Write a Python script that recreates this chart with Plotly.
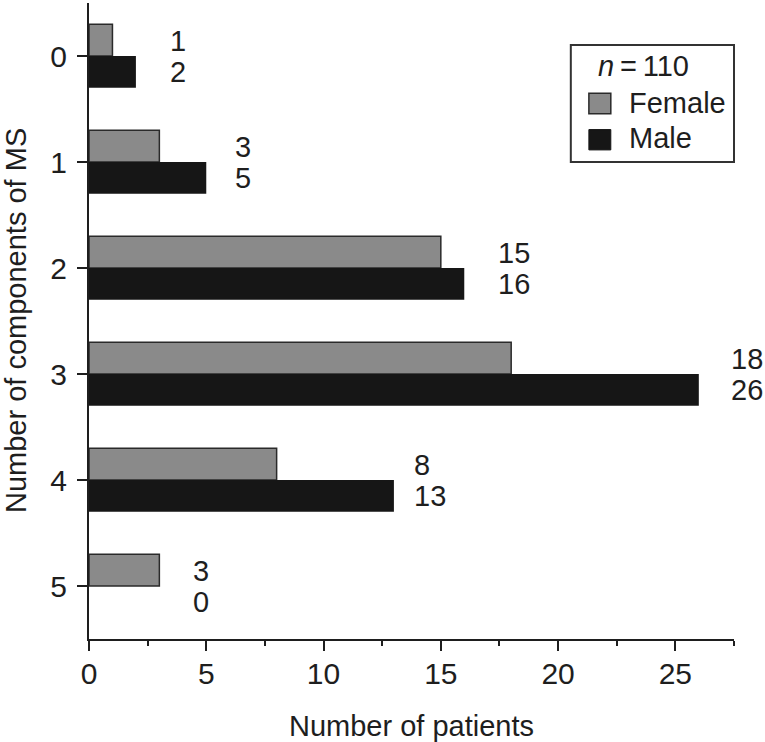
import plotly.graph_objects as go

# ---- data ----
categories = [0, 1, 2, 3, 4, 5]
female = [1, 3, 15, 18, 8, 3]
male = [2, 5, 16, 26, 13, 0]
x_ticks = [0, 5, 10, 15, 20, 25]
legend_title = "<i>n</i>\u2009=\u2009110"
x_title = "Number of patients"
y_title = "Number of components of MS"

# ---- styles ----
FONT = "Liberation Sans, Arial, Helvetica, sans-serif"
INK = "#1e1e1e"
F_COL = "#8a8a8a"
M_COL = "#161616"
label_shift_px = [32, 27, 32, 30, 18, 32]

fig = go.Figure()
fig.add_trace(go.Bar(y=categories, x=female, orientation="h", name="Female",
                     marker=dict(color=F_COL, line=dict(color="#2a2a2a", width=1.5))))
fig.add_trace(go.Bar(y=categories, x=male, orientation="h", name="Male",
                     marker=dict(color=M_COL, line=dict(color=M_COL, width=0))))

# value labels beside each pair
for i, c in enumerate(categories):
    xm = max(female[i], male[i])
    for val, dy, ys in ((female[i], -0.15, -1), (male[i], 0.15, 0)):
        fig.add_annotation(x=xm, y=c + dy, xref="x", yref="y", text=str(val),
                           showarrow=False, xanchor="left", yanchor="middle",
                           xshift=label_shift_px[i], yshift=ys,
                           font=dict(family=FONT, size=29, color=INK))

# axis titles
fig.add_annotation(x=0.5, y=0, xref="paper", yref="paper", text=x_title, showarrow=False,
                   xanchor="center", yanchor="middle", yshift=-87,
                   font=dict(family=FONT, size=29, color=INK))
fig.add_annotation(x=0, y=0.5, xref="paper", yref="paper", text=y_title, showarrow=False,
                   xanchor="center", yanchor="middle", xshift=-73, textangle=-90,
                   font=dict(family=FONT, size=29, color=INK))

# legend drawn manually
fig.add_shape(type="rect", xref="paper", yref="paper", x0=0.747, x1=1.0, y0=0.75, y1=0.934,
              line=dict(color="#333", width=2), fillcolor="white", layer="above")
fig.add_shape(type="rect", xref="paper", yref="paper", x0=0.775, x1=0.809, y0=0.826, y1=0.858,
              line=dict(color="#2a2a2a", width=1.5), fillcolor=F_COL, layer="above")
fig.add_shape(type="rect", xref="paper", yref="paper", x0=0.775, x1=0.809, y0=0.769, y1=0.801,
              line=dict(color=M_COL, width=1), fillcolor=M_COL, layer="above")
fig.add_annotation(x=0.86, y=0.901, xref="paper", yref="paper", text=legend_title,
                   showarrow=False, xanchor="center", yanchor="middle",
                   font=dict(family=FONT, size=29, color=INK))
for name, yy in (("Female", 0.843), ("Male", 0.787)):
    fig.add_annotation(x=0.834, y=yy, xref="paper", yref="paper", text=name,
                       showarrow=False, xanchor="left", yanchor="middle",
                       font=dict(family=FONT, size=29, color=INK))

fig.update_layout(
    width=765, height=742, autosize=False,
    margin=dict(l=89, r=31, t=3, b=103, pad=0),
    paper_bgcolor="white", plot_bgcolor="white",
    barmode="group", bargap=0.4, bargroupgap=0,
    showlegend=False,
    font=dict(family=FONT, size=30, color=INK),
)
fig.update_xaxes(
    range=[0, 27.5], tickvals=x_ticks, ticks="outside", ticklen=10, tickwidth=2,
    tickcolor=INK, showline=True, linewidth=2, linecolor=INK, showgrid=False,
    zeroline=False, tickfont=dict(size=30), ticklabelstandoff=-3, automargin=False,
    minor=dict(dtick=2.5, tick0=0, ticks="outside", ticklen=5, tickwidth=2, tickcolor=INK,
               showgrid=False),
)
fig.update_yaxes(
    range=[5.5, -0.5], tickvals=categories, ticks="outside", ticklen=10, tickwidth=2,
    tickcolor=INK, showline=True, linewidth=2, linecolor=INK, showgrid=False,
    zeroline=False, tickfont=dict(size=30), ticklabelstandoff=4, automargin=False,
)

fig.write_html("out.html", config={"displayModeBar": False},
               post_script="document.body.style.margin='0';document.body.style.overflow='hidden';")
